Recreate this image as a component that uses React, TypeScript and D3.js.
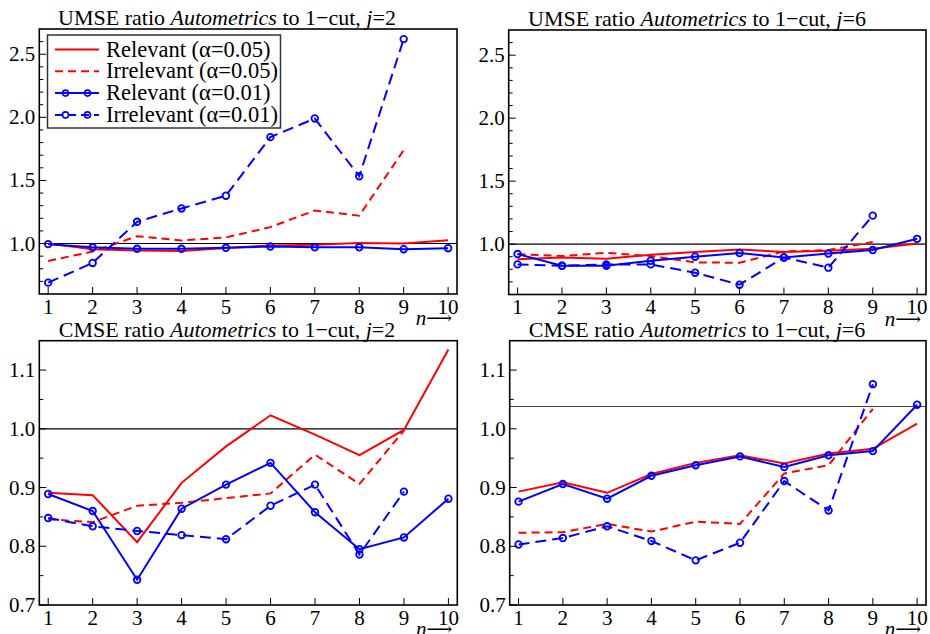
import React from "react";
import * as d3 from "d3";

// n = 1..10
const nValues = [1, 2, 3, 4, 5, 6, 7, 8, 9, 10];

// UMSE, j=2
const umse2RelA05 = [1.0, 0.955, 0.945, 0.94, 0.965, 0.985, 0.99, 1.005, 1.0, 1.025];
const umse2IrrA05 = [0.862, 0.936, 1.058, 1.024, 1.048, 1.13, 1.262, 1.22, 1.74];
const umse2RelA01 = [0.995, 0.97, 0.958, 0.958, 0.966, 0.976, 0.97, 0.97, 0.955, 0.963];
const umse2IrrA01 = [0.69, 0.846, 1.172, 1.278, 1.379, 1.843, 1.991, 1.533, 2.62];

// UMSE, j=6
const umse6RelA05 = [0.879, 0.894, 0.884, 0.916, 0.937, 0.958, 0.937, 0.947, 0.963, 1.005];
const umse6IrrA05 = [0.921, 0.905, 0.931, 0.905, 0.855, 0.852, 0.942, 0.953, 1.016];
const umse6RelA01 = [0.921, 0.828, 0.828, 0.868, 0.9, 0.929, 0.894, 0.926, 0.953, 1.042];
const umse6IrrA01 = [0.839, 0.828, 0.839, 0.839, 0.773, 0.678, 0.894, 0.813, 1.226];

// CMSE, j=2
const cmse2RelA05 = [0.891, 0.887, 0.807, 0.908, 0.97, 1.023, 0.99, 0.955, 0.998, 1.135];
const cmse2IrrA05 = [0.846, 0.841, 0.869, 0.874, 0.882, 0.89, 0.956, 0.906, 0.997];
const cmse2RelA01 = [0.889, 0.86, 0.743, 0.864, 0.905, 0.942, 0.858, 0.795, 0.815, 0.881];
const cmse2IrrA01 = [0.848, 0.834, 0.826, 0.819, 0.812, 0.869, 0.905, 0.786, 0.893];

// CMSE, j=6
const cmse6RelA05 = [0.893, 0.909, 0.891, 0.923, 0.942, 0.955, 0.941, 0.958, 0.966, 1.009];
const cmse6IrrA05 = [0.823, 0.824, 0.838, 0.825, 0.842, 0.838, 0.924, 0.938, 1.034];
const cmse6RelA01 = [0.876, 0.906, 0.881, 0.92, 0.938, 0.953, 0.935, 0.955, 0.962, 1.041];
const cmse6IrrA01 = [0.803, 0.814, 0.834, 0.809, 0.776, 0.806, 0.911, 0.861, 1.076];

const legendLabels = [
  "Relevant (\u03b1=0.05)",
  "Irrelevant (\u03b1=0.05)",
  "Relevant (\u03b1=0.01)",
  "Irrelevant (\u03b1=0.01)",
];

const umseMajor = [1.0, 1.5, 2.0, 2.5];
const umseMinor = [0.7, 0.8, 0.9, 1.1, 1.2, 1.3, 1.4, 1.6, 1.7, 1.8, 1.9, 2.1, 2.2, 2.3, 2.4, 2.6];
const cmseMajor = [0.7, 0.8, 0.9, 1.0, 1.1];
const cmseMinor = [0.75, 0.85, 0.95, 1.05];

const RED = "#ff0000";
const BLUE = "#0000ff";
const FONT = "'Liberation Serif', 'Times New Roman', serif";

type Style = { color: string; dash?: string; marker: boolean };
const styles: Style[] = [
  { color: RED, marker: false },
  { color: RED, dash: "8,5", marker: false },
  { color: BLUE, marker: true },
  { color: BLUE, dash: "11,6", marker: true },
];

type PanelProps = {
  box: { l: number; r: number; t: number; b: number };
  yDomain: [number, number];
  major: number[];
  minor: number[];
  kind: string;
  j: number;
  titleX: number;
  series: number[][];
  refValue: number;
  refColor: string;
  legend?: boolean;
};

function Panel({ box, yDomain, major, minor, kind, j, titleX, series, refValue, refColor, legend }: PanelProps) {
  const x = d3.scaleLinear().domain([0.8, 10.2]).range([box.l, box.r]);
  const y = d3.scaleLinear().domain(yDomain).range([box.b, box.t]);
  const line = d3.line<number>().x((_, i) => x(nValues[i])).y(d => y(d));

  return (
    <g>
      <text x={titleX} y={box.t - 4} fontSize={22} textAnchor="middle" fontFamily={FONT}>
        {kind} ratio <tspan fontStyle="italic">Autometrics</tspan> to 1{"\u2212"}cut, <tspan fontStyle="italic">j</tspan>={j}
      </text>
      <line x1={box.l} x2={box.r} y1={y(refValue)} y2={y(refValue)} stroke={refColor} strokeWidth={1.2} />
      {series.map((vals, k) => (
        <g key={k}>
          <path d={line(vals) || ""} fill="none" stroke={styles[k].color} strokeWidth={2} strokeDasharray={styles[k].dash} />
          {styles[k].marker && vals.map((v, i) => (
            <circle key={i} cx={x(nValues[i])} cy={y(v)} r={3.3} fill="none" stroke={BLUE} strokeWidth={1.8} />
          ))}
        </g>
      ))}
      <rect x={box.l} y={box.t} width={box.r - box.l} height={box.b - box.t} fill="none" stroke="#000" strokeWidth={1.6} />
      {major.map(v => (
        <g key={"M" + v}>
          <line x1={box.l} x2={box.l + 7} y1={y(v)} y2={y(v)} stroke="#000" strokeWidth={1} />
          <text x={box.l - 4} y={y(v) + 7} fontSize={21} textAnchor="end" fontFamily={FONT}>{d3.format(".1f")(v)}</text>
        </g>
      ))}
      {minor.map(v => (
        <line key={"m" + v} x1={box.l} x2={box.l + 4} y1={y(v)} y2={y(v)} stroke="#000" strokeWidth={1} />
      ))}
      {nValues.map(n => (
        <g key={"x" + n}>
          <line x1={x(n)} x2={x(n)} y1={box.b} y2={box.b - 7} stroke="#000" strokeWidth={1} />
          <text x={x(n)} y={box.b + 19.5} fontSize={21} textAnchor="middle" fontFamily={FONT}>{n}</text>
        </g>
      ))}
      <text x={x(9) + 12} y={box.b + 31} fontSize={21} fontFamily={FONT}>
        <tspan fontStyle="italic">n</tspan><tspan dy={-1} fontFamily="'DejaVu Serif', serif" fontSize={18}>{"\u27f6"}</tspan>
      </text>
      {legend && (
        <g>
          <rect x={47.5} y={35} width={233} height={93} fill="#fff" stroke="#333" strokeWidth={1.5} />
          {legendLabels.map((lab, k) => {
            const cy = 49.5 + k * 21.8;
            return (
              <g key={lab}>
                <line x1={55} x2={99} y1={cy} y2={cy} stroke={styles[k].color} strokeWidth={2} strokeDasharray={styles[k].dash ? "8,5" : undefined} />
                {styles[k].marker && [65.5, 87.5].map(cx => (
                  <circle key={cx} cx={cx} cy={cy} r={3} fill="none" stroke={BLUE} strokeWidth={1.6} />
                ))}
                <text x={106} y={cy + 7} fontSize={22.5} fontFamily={FONT}>{lab}</text>
              </g>
            );
          })}
        </g>
      )}
    </g>
  );
}

export default function App() {
  return (
    <svg width={930} height={634} style={{ position: "absolute", left: 0, top: 0, background: "#fff" }}>
      <Panel box={{ l: 39.3, r: 457, t: 29, b: 294 }} yDomain={[0.6, 2.7]} major={umseMajor} minor={umseMinor}
        kind="UMSE" j={2} titleX={227} series={[umse2RelA05, umse2IrrA05, umse2RelA01, umse2IrrA01]}
        refValue={1.0} refColor="#000" legend />
      <Panel box={{ l: 508.7, r: 926, t: 30, b: 294.5 }} yDomain={[0.6, 2.7]} major={umseMajor} minor={umseMinor}
        kind="UMSE" j={6} titleX={697} series={[umse6RelA05, umse6IrrA05, umse6RelA01, umse6IrrA01]}
        refValue={1.0} refColor="#000" />
      <Panel box={{ l: 39.3, r: 457.3, t: 340.7, b: 605 }} yDomain={[0.7, 1.15]} major={cmseMajor} minor={cmseMinor}
        kind="CMSE" j={2} titleX={227} series={[cmse2RelA05, cmse2IrrA05, cmse2RelA01, cmse2IrrA01]}
        refValue={1.0} refColor="#000" />
      <Panel box={{ l: 509.7, r: 926, t: 340.7, b: 605 }} yDomain={[0.7, 1.15]} major={cmseMajor} minor={cmseMinor}
        kind="CMSE" j={6} titleX={697} series={[cmse6RelA05, cmse6IrrA05, cmse6RelA01, cmse6IrrA01]}
        refValue={1.038} refColor="#444" />
    </svg>
  );
}
